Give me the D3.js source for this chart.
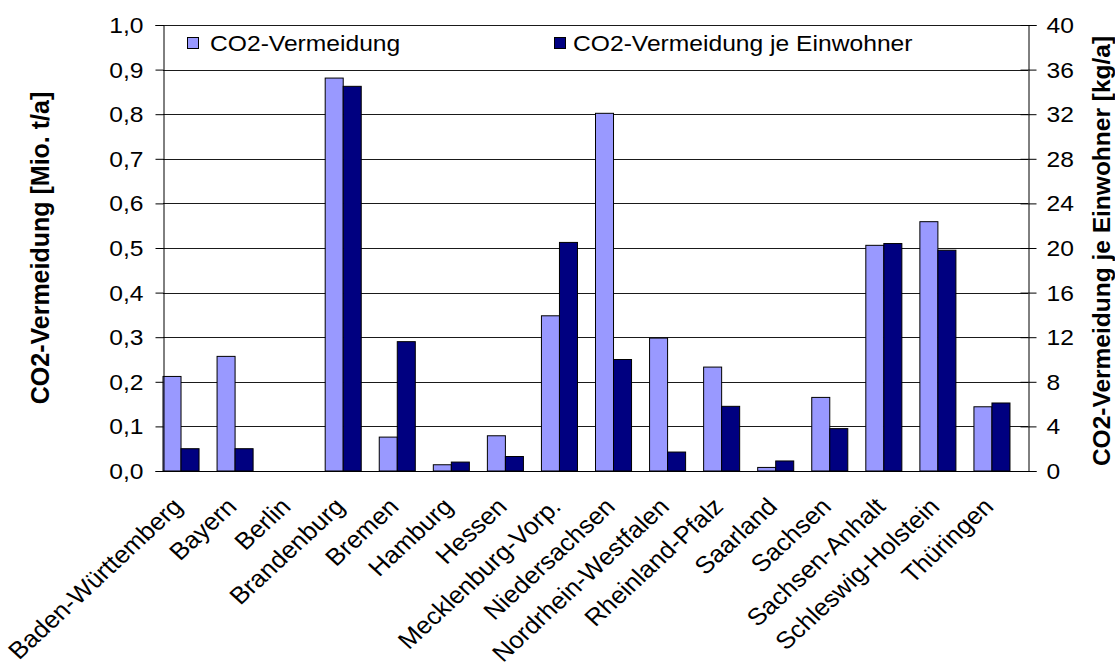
<!DOCTYPE html>
<html>
<head>
<meta charset="utf-8">
<script src="https://cdn.jsdelivr.net/npm/d3@7"></script>
<style>
  body { margin: 0; background: #fff; }
  text { font-family: "Liberation Sans", Arial, sans-serif; fill: #000; }
</style>
</head>
<body>
<svg id="chart" width="1115" height="670"></svg>
<script>
// Bundesländer
const states = ["Baden-Württemberg", "Bayern", "Berlin", "Brandenburg", "Bremen", "Hamburg",
  "Hessen", "Mecklenburg-Vorp.", "Niedersachsen", "Nordrhein-Westfalen", "Rheinland-Pfalz",
  "Saarland", "Sachsen", "Sachsen-Anhalt", "Schleswig-Holstein", "Thüringen"];

// CO2-Vermeidung [Mio. t/a]
const vermeidung = [0.212, 0.257, 0, 0.881, 0.076, 0.014, 0.079, 0.348, 0.802, 0.298,
  0.233, 0.008, 0.165, 0.506, 0.559, 0.144];

// CO2-Vermeidung je Einwohner [kg/a]
const jeEinwohner = [2.0, 2.0, 0, 34.5, 11.6, 0.8, 1.3, 20.5, 10.0, 1.7,
  5.8, 0.9, 3.8, 20.4, 19.8, 6.1];

const leftTicks = [0, 0.1, 0.2, 0.3, 0.4, 0.5, 0.6, 0.7, 0.8, 0.9, 1.0];
const rightTicks = [0, 4, 8, 12, 16, 20, 24, 28, 32, 36, 40];
const seriesNames = ["CO2-Vermeidung", "CO2-Vermeidung je Einwohner"];
const seriesColors = ["#9999FF", "#000080"];
const leftTitle = "CO2-Vermeidung [Mio. t/a]";
const rightTitle = "CO2-Vermeidung je Einwohner [kg/a]";

const svg = d3.select("#chart");
const plot = { left: 163, right: 1028, top: 25, bottom: 471 };
const textStretch = 1.12;

const x = d3.scaleBand().domain(states).range([plot.left, plot.right]).padding(0);
const yL = d3.scaleLinear().domain([0, 1]).range([plot.bottom, plot.top]);
const yR = d3.scaleLinear().domain([0, 40]).range([plot.bottom, plot.top]);
const barW = x.bandwidth() / 3;

const de = d3.formatLocale({ decimal: ",", thousands: ".", grouping: [3], currency: ["", " €"] });
const fmt1 = de.format(".1f");

// horizontal grid lines
svg.append("g")
  .selectAll("line")
  .data(leftTicks.slice(1))
  .join("line")
  .attr("x1", plot.left).attr("x2", plot.right)
  .attr("y1", d => Math.round(yL(d)) + 0.5).attr("y2", d => Math.round(yL(d)) + 0.5)
  .attr("stroke", "#1a1a1a").attr("stroke-width", 1);

// bars
const groups = svg.append("g")
  .selectAll("g")
  .data(states)
  .join("g");

groups.append("rect")
  .attr("x", (d, i) => x(d))
  .attr("width", barW)
  .attr("y", (d, i) => yL(vermeidung[i]))
  .attr("height", (d, i) => plot.bottom - yL(vermeidung[i]))
  .attr("fill", seriesColors[0])
  .attr("stroke", "#000").attr("stroke-width", 1)
  .style("display", (d, i) => vermeidung[i] > 0 ? null : "none");

groups.append("rect")
  .attr("x", (d, i) => x(d) + barW)
  .attr("width", barW)
  .attr("y", (d, i) => yR(jeEinwohner[i]))
  .attr("height", (d, i) => plot.bottom - yR(jeEinwohner[i]))
  .attr("fill", seriesColors[1])
  .attr("stroke", "#000").attr("stroke-width", 1)
  .style("display", (d, i) => jeEinwohner[i] > 0 ? null : "none");

// left axis
const axL = svg.append("g")
  .attr("transform", `translate(${plot.left + 0.5},0)`)
  .call(d3.axisLeft(yL).tickValues(leftTicks).tickSize(8).tickFormat(fmt1));
axL.select(".domain").attr("stroke", "#000");
axL.selectAll(".tick line").attr("stroke", "#000");
axL.selectAll(".tick text")
  .attr("x", null).attr("dy", null)
  .attr("text-anchor", "end")
  .attr("dominant-baseline", "central")
  .attr("font-size", 22)
  .attr("transform", `translate(-20,0) scale(${textStretch},1)`);

// right axis
const axR = svg.append("g")
  .attr("transform", `translate(${plot.right + 0.5},0)`)
  .call(d3.axisRight(yR).tickValues(rightTicks).tickSize(8).tickFormat(d3.format("d")));
axR.select(".domain").attr("stroke", "#000");
axR.selectAll(".tick line").attr("stroke", "#000").attr("x1", -8);
axR.selectAll(".tick text")
  .attr("x", null).attr("dy", null)
  .attr("text-anchor", "start")
  .attr("dominant-baseline", "central")
  .attr("font-size", 22)
  .attr("transform", `translate(18,0) scale(${textStretch},1)`);

// bottom axis line
svg.append("line")
  .attr("x1", plot.left).attr("x2", plot.right)
  .attr("y1", plot.bottom + 0.5).attr("y2", plot.bottom + 0.5)
  .attr("stroke", "#000");

// category labels, slanted
svg.append("g")
  .selectAll("text")
  .data(states)
  .join("text")
  .attr("transform", d => `translate(${x(d) + barW + 3},508) scale(1.08,1) rotate(-45)`)
  .attr("text-anchor", "end")
  .attr("font-size", 24)
  .text(d => d);

// legend
const legendItems = [{ x: 187, tx: 210 }, { x: 554, tx: 573 }];
const lg = svg.append("g")
  .selectAll("g")
  .data(seriesNames)
  .join("g");
lg.append("rect")
  .attr("x", (d, i) => legendItems[i].x + 0.5).attr("y", 37.5)
  .attr("width", 11).attr("height", 11)
  .attr("fill", (d, i) => seriesColors[i])
  .attr("stroke", "#000");
lg.append("text")
  .attr("transform", (d, i) => `translate(${legendItems[i].tx},43) scale(${textStretch},1)`)
  .attr("dominant-baseline", "central")
  .attr("font-size", 22)
  .text(d => d);

// axis titles
svg.append("text")
  .attr("transform", `translate(40,${(plot.top + plot.bottom) / 2}) rotate(-90)`)
  .attr("text-anchor", "middle")
  .attr("dominant-baseline", "central")
  .attr("font-size", 25)
  .attr("font-weight", "bold")
  .text(leftTitle);

svg.append("text")
  .attr("transform", `translate(1101,${(plot.top + plot.bottom) / 2 + 3}) rotate(-90)`)
  .attr("text-anchor", "middle")
  .attr("dominant-baseline", "central")
  .attr("font-size", 24.5)
  .attr("font-weight", "bold")
  .text(rightTitle);
</script>
</body>
</html>
